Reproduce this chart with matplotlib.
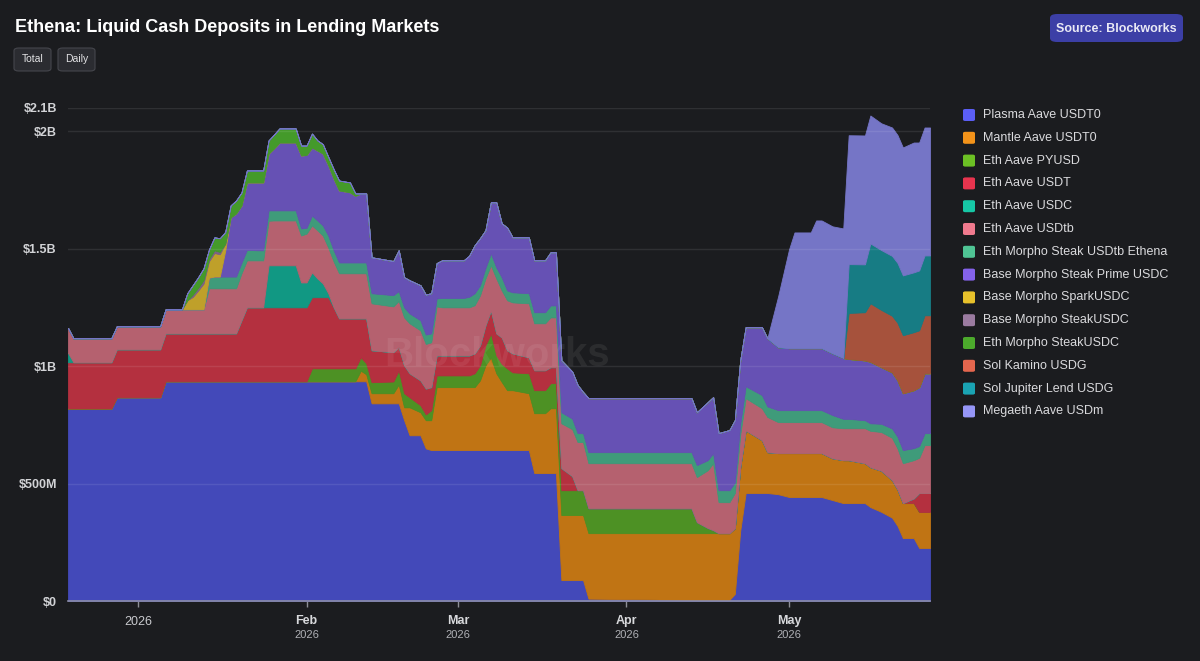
import datetime as dt
import matplotlib
matplotlib.use("Agg")
import matplotlib.pyplot as plt
import matplotlib.transforms as mtransforms
from matplotlib.patches import FancyBboxPatch

plt.rcParams['font.family'] = ['Liberation Sans', 'DejaVu Sans']

# ---------------- data (values in $M) ----------------
day_offsets = [-13, -12, -5, -4, 4, 5, 8, 9, 10, 11, 12, 13, 14, 15, 16, 17, 18, 19, 20,
               22, 23, 24, 25, 26, 29, 30, 31, 32, 33, 34, 35, 36, 37, 39, 40, 41, 42, 43,
               47, 48, 49, 50, 52, 53, 54, 55, 56, 60, 61, 62, 63, 64, 65, 66, 67, 68, 69, 72, 73, 75, 76, 77, 78,
               80, 81, 82, 83, 101, 102, 103, 105, 106, 107, 109, 110, 111, 112, 115, 116, 118, 120, 121,
               124, 125, 126, 128, 130, 131, 134, 135, 137, 139, 140, 141, 143, 144, 145, 146]

plasma_aave_usdt0 = (
    [820, 820, 820, 868, 868, 936, 936] + [936] * 12 + [936] * 18 +
    [842, 842, 842, 770, 706, 706, 650, 643] + [643] * 13 +
    [545, 545, 545, 545, 89, 89, 89, 89, 10] + [5] * 7 +
    [30, 300, 460, 460, 460, 455, 443, 443, 443, 443, 443, 430, 417, 417, 417, 400, 380, 355,
     320, 268, 268, 226, 226, 226])

mantle_aave_usdt0 = (
    [0] * 35 + [45, 30, 43, 43, 80, 55, 119, 98, 120, 127] +
    [268, 268, 268, 268, 268, 297, 361, 395, 327, 290, 255, 255, 242] +
    [255, 255, 276, 276, 277, 277, 277, 277, 279] + [284] * 7 +
    [280, 270, 267, 225, 174, 175, 187, 187, 187, 187, 187, 178, 183, 183, 170, 170, 175, 160,
     155, 149, 149, 153, 153, 153])

eth_aave_pyusd = (
    [0] * 27 + [55] * 8 + [57, 47, 47, 50, 60, 60, 43, 30, 25, 43] +
    [50, 50, 50, 50, 59, 64, 85, 102, 77, 77, 93, 76, 85] +
    [98, 98, 107, 107, 106, 106, 106, 106, 106] + [106, 106, 47, 22, 13] + [0] * 26)

eth_aave_usdt = (
    [197, 197, 197, 204, 204, 204, 204] + [204] * 10 + [260, 315] + [315] * 8 +
    [303, 303, 303, 303, 260, 213, 213, 213, 166, 191] +
    [136, 125, 100, 119, 102, 106, 110, 98] +
    [85, 85, 85, 85, 85, 85, 85, 98, 93, 113, 77, 81, 68] +
    [85, 85, 68, 68, 94, 60] + [0] * 30 + [20, 81, 81, 81])

eth_aave_usdc = [40] + [0] * 20 + [179, 179, 179, 179, 106, 106, 106, 80, 59, 17] + [0] * 67

eth_aave_usdtb = (
    [106, 102, 102, 98, 98, 102, 102] + [102, 102, 102, 102] + [192] * 6 + [200, 200] +
    [200, 200, 190, 191, 191, 191, 200, 208, 200, 205, 204, 195, 195, 192, 192, 192, 192, 192] +
    [200, 195, 196, 204, 213, 213, 190, 191] +
    [209, 205, 205, 205, 205, 213, 200, 192, 234, 200, 213, 217, 230] +
    [200, 200, 212, 212, 191, 200, 205, 205, 192] +
    [192, 192, 192, 246, 285, 132, 132] +
    [150, 140, 137, 136, 150, 132, 132, 132, 132, 132, 132, 132, 136, 136, 149, 155, 165, 180,
     175, 170, 163, 150, 204, 204])

eth_morpho_steak_usdtb_ethena = (
    [0] * 11 + [45, 50, 50, 50, 50, 50, 45, 45] +
    [43, 43, 44, 43, 43, 43, 30, 25, 42, 42, 43, 51, 48, 46, 46, 46, 46, 46] +
    [43, 48, 42, 43, 42, 43, 40, 38] +
    [34, 40, 40, 45, 51, 43, 45, 51, 47, 56, 42, 43, 43] +
    [47, 47, 51, 51, 47, 45, 38, 38, 47] +
    [47, 47, 51, 43, 43, 51, 51] +
    [45, 45, 51, 56, 45, 51, 51, 51, 51, 51, 51, 52, 40, 40, 34, 32, 35, 40, 50, 56, 51, 50, 51, 51])

base_morpho_steak_prime_usdc = (
    [0] * 14 + [110, 252, 269, 244, 287] +
    [289, 289, 242, 264, 289, 289, 311, 310, 290, 298, 306, 300, 305, 307, 299, 284, 294, 294] +
    [153, 145, 174, 128, 141, 149, 170, 171] +
    [150, 160, 160, 175, 204, 200, 160, 217, 277, 229, 268, 234, 238] +
    [221, 221, 226, 226, 221, 200, 205, 175, 230] +
    [230, 230, 225, 247, 238, 243, 256] +
    [265, 270, 251, 289, 290, 268, 264, 264, 264, 264, 264, 263, 259, 255, 255, 262, 241, 239,
     240, 242, 247, 251, 255, 255])

base_morpho_sparkusdc = [0] * 7 + [39, 53, 80, 110, 70, 100, 95, 30] + [0] * 83

base_morpho_steakusdc = [0] * 8 + [10, 12, 15, 10, 12, 10] + [0] * 84

eth_morpho_steakusdc = (
    [0] * 7 + [30, 40, 45, 50, 40, 55, 58, 50, 51, 55, 55, 51] +
    [51, 51, 56, 59, 60, 60, 42, 40, 59, 43, 40, 35, 40, 42, 42, 10] + [0] * 63)

sol_kamino_usdg = [0] * 87 + [196, 205, 249, 244, 241, 245, 247, 247, 242, 247, 247]

sol_jupiter_lend_usdg = [0] * 87 + [208, 204, 255, 255, 255, 255, 255, 255, 255, 255, 255]

megaeth_aave_usdm = [0] * 79 + [218, 421, 493, 493, 544, 544, 541, 552, 549, 549, 545, 540,
                                547, 545, 545, 553, 545, 545, 545]

series_names = ["Plasma Aave USDT0", "Mantle Aave USDT0", "Eth Aave PYUSD", "Eth Aave USDT",
                "Eth Aave USDC", "Eth Aave USDtb", "Eth Morpho Steak USDtb Ethena",
                "Base Morpho Steak Prime USDC", "Base Morpho SparkUSDC", "Base Morpho SteakUSDC",
                "Eth Morpho SteakUSDC", "Sol Kamino USDG", "Sol Jupiter Lend USDG", "Megaeth Aave USDm"]

series_values = [plasma_aave_usdt0, mantle_aave_usdt0, eth_aave_pyusd, eth_aave_usdt, eth_aave_usdc,
                 eth_aave_usdtb, eth_morpho_steak_usdtb_ethena, base_morpho_steak_prime_usdc,
                 base_morpho_sparkusdc, base_morpho_steakusdc, eth_morpho_steakusdc,
                 sol_kamino_usdg, sol_jupiter_lend_usdg, megaeth_aave_usdm]

legend_colors = ["#5B5EF5", "#F3931A", "#6CC024", "#E8344E", "#16C7A5", "#F07A8E", "#4FC494",
                 "#8462EA", "#E7C12B", "#9B7BA0", "#4CAA2C", "#E4664E", "#1AA3B3", "#9696F7"]
fill_colors = ["#4349B9", "#C07414", "#4D9124", "#B4303F", "#119883", "#B5616F", "#3F9B7A",
               "#6651B4", "#BFA02A", "#7D6286", "#449A2A", "#A6523C", "#177C84", "#7575C6"]

y_ticks = [0, 500, 1000, 1500, 2000, 2100]
y_tick_labels = ["$0", "$500M", "$1B", "$1.5B", "$2B", "$2.1B"]
month_ticks = [dt.date(2026, 1, 1), dt.date(2026, 2, 1), dt.date(2026, 3, 1),
               dt.date(2026, 4, 1), dt.date(2026, 5, 1)]
month_names = [None, "Feb", "Mar", "Apr", "May"]

for v in series_values:
    assert len(v) == len(day_offsets), len(v)

dates = [dt.date(2026, 1, 1) + dt.timedelta(days=d) for d in day_offsets]

# ---------------- figure ----------------
BG = "#1B1C1F"
W, H = 1200, 661
fig = plt.figure(figsize=(12, 6.61), dpi=100, facecolor=BG)


def fx(px):
    return px / W


def fy(py):
    return 1 - py / H


ax = fig.add_axes([fx(68), fy(601), fx(930) - fx(68), fy(108) - fy(601)])
ax.set_facecolor(BG)

polys = ax.stackplot(dates, *series_values, colors=fill_colors, zorder=2)
for p, c in zip(polys, fill_colors):
    p.set_edgecolor(c)
    p.set_linewidth(0.6)

ax.set_xlim(dates[0], dates[-1])
ax.set_ylim(0, 2100)

# grid lines (faint, over the areas like the semi-transparent original)
for yv in y_ticks[1:]:
    ax.axhline(yv, color="white", alpha=0.09, lw=1.0, zorder=3)

ax.set_yticks(y_ticks)
ax.set_yticklabels(y_tick_labels)
ax.tick_params(axis="y", length=0, pad=8, labelcolor="#D2D3D6", labelsize=9)
for t in ax.get_yticklabels():
    t.set_fontweight("bold")

ax.set_xticks(month_ticks)
ax.set_xticklabels([])
ax.tick_params(axis="x", length=4, width=1, color="#8D8E96", direction="out")

for s in ["top", "right", "left"]:
    ax.spines[s].set_visible(False)
ax.spines["bottom"].set_color("#8D8EA8")
ax.spines["bottom"].set_linewidth(1.2)
ax.spines["bottom"].set_zorder(4)

trans = mtransforms.blended_transform_factory(ax.transData, ax.transAxes)
for d, name in zip(month_ticks, month_names):
    if name is None:
        ax.text(d, -0.042, "2026", transform=trans, ha="center", va="center",
                fontsize=9, color="#C9CACE")
    else:
        ax.text(d, -0.040, name, transform=trans, ha="center", va="center",
                fontsize=9, fontweight="bold", color="#D8D9DC")
        ax.text(d, -0.068, "2026", transform=trans, ha="center", va="center",
                fontsize=8, color="#AFB0B5")

# watermark
fig.text(fx(497), fy(355), "Blockworks", ha="center", va="center", fontsize=29,
         fontweight="bold", color="white", alpha=0.07, zorder=10)

# title
fig.text(fx(15), fy(28), "Ethena: Liquid Cash Deposits in Lending Markets", ha="left",
         va="center", fontsize=13, fontweight="bold", color="white")

# Total / Daily buttons
for label, x0, x1 in [("Total", 14, 51), ("Daily", 58, 95)]:
    box = FancyBboxPatch((fx(x0), fy(71)), fx(x1) - fx(x0), fy(48) - fy(71),
                         boxstyle="round,pad=0,rounding_size=0.004",
                         transform=fig.transFigure, facecolor="#2B2C31",
                         edgecolor="#45464C", lw=0.8)
    fig.add_artist(box)
    fig.text(fx((x0 + x1) / 2), fy(59), label, ha="center", va="center",
             fontsize=7.5, color="#E2E2E4")

# Source badge
src = FancyBboxPatch((fx(1050), fy(42)), fx(1183) - fx(1050), fy(14) - fy(42),
                     boxstyle="round,pad=0,rounding_size=0.006",
                     transform=fig.transFigure, facecolor="#3C3FA6", edgecolor="none")
fig.add_artist(src)
fig.text(fx(1116.5), fy(28.5), "Source: Blockworks", ha="center", va="center",
         fontsize=9, fontweight="bold", color="#E9E9F5")

# legend
row0, step = 115, 22.8
for i, (name, col) in enumerate(zip(series_names, legend_colors)):
    yc = row0 + i * step
    sq = FancyBboxPatch((fx(963), fy(yc + 6)), fx(975) - fx(963), fy(yc - 6) - fy(yc + 6),
                        boxstyle="round,pad=0,rounding_size=0.002",
                        transform=fig.transFigure, facecolor=col, edgecolor="none")
    fig.add_artist(sq)
    fig.text(fx(983), fy(yc), name, ha="left", va="center", fontsize=9, color="#DADADD")

fig.savefig("out.png", dpi=100, facecolor=BG)
